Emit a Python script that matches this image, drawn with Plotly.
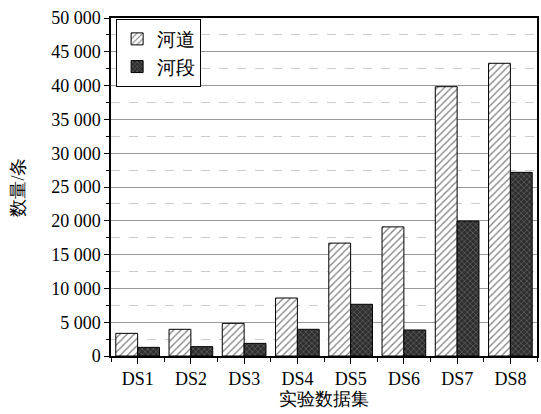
import plotly.graph_objects as go

categories = ["DS1", "DS2", "DS3", "DS4", "DS5", "DS6", "DS7", "DS8"]
hedao = [3350, 3950, 4830, 8580, 16700, 19100, 39840, 43300]
heduan = [1280, 1380, 1870, 3950, 7650, 3850, 19970, 27170]
y_ticks = [0, 5000, 10000, 15000, 20000, 25000, 30000, 35000, 40000, 45000, 50000]

FONT = "Liberation Serif"

fig = go.Figure()
fig.add_trace(go.Bar(
    x=categories, y=hedao, name="河道",
    marker=dict(color="white", line=dict(color="black", width=1),
                pattern=dict(shape="/", fgcolor="black", bgcolor="white", size=5, solidity=0.25)),
))
fig.add_trace(go.Bar(
    x=categories, y=heduan, name="河段",
    marker=dict(color="#333333", line=dict(color="black", width=1),
                pattern=dict(shape="x", fgcolor="#808080", bgcolor="#2e2e2e", size=4, solidity=0.4)),
))

fig.update_layout(
    width=541, height=414,
    margin=dict(l=111, r=2, t=18, b=58),
    paper_bgcolor="white", plot_bgcolor="white",
    barmode="group", bargap=0.18, bargroupgap=0,
    separators=". ",
    font=dict(family=FONT, size=18, color="black"),
    legend=dict(x=0.012, y=0.997, xanchor="left", yanchor="top",
                bordercolor="black", borderwidth=1, bgcolor="white",
                font=dict(size=19), tracegroupgap=0, itemwidth=30),
    showlegend=True,
)
fig.update_xaxes(
    type="category",
    showline=True, linecolor="black", linewidth=1.5, mirror=True,
    ticks="outside", ticklen=6, tickcolor="black",
    minor=dict(ticks="outside", ticklen=4, tickcolor="black",
               tickvals=[i - 0.5 for i in range(len(categories) + 1)]),
    tickfont=dict(size=18),
    title=dict(text="实验数据集", font=dict(size=18), standoff=3),
    range=[-0.5, len(categories) - 0.5],
)
fig.update_yaxes(
    range=[0, 50000], tickvals=y_ticks, tickformat=",d",
    showline=True, linecolor="black", linewidth=1.5, mirror=True,
    ticks="outside", ticklen=5, tickcolor="black",
    showgrid=True, gridcolor="#999999", gridwidth=1,
    minor=dict(dtick=2500, tick0=0, ticks="outside", ticklen=3, tickcolor="black",
               showgrid=True, gridcolor="#cccccc", griddash="dash", gridwidth=1),
    tickfont=dict(size=18),
    title=dict(text="数量/条", font=dict(size=18), standoff=22),
    zeroline=False,
)

fig.write_html("out.html", config={"displayModeBar": False},
               post_script="document.body.style.margin='0';document.body.style.padding='0';")
